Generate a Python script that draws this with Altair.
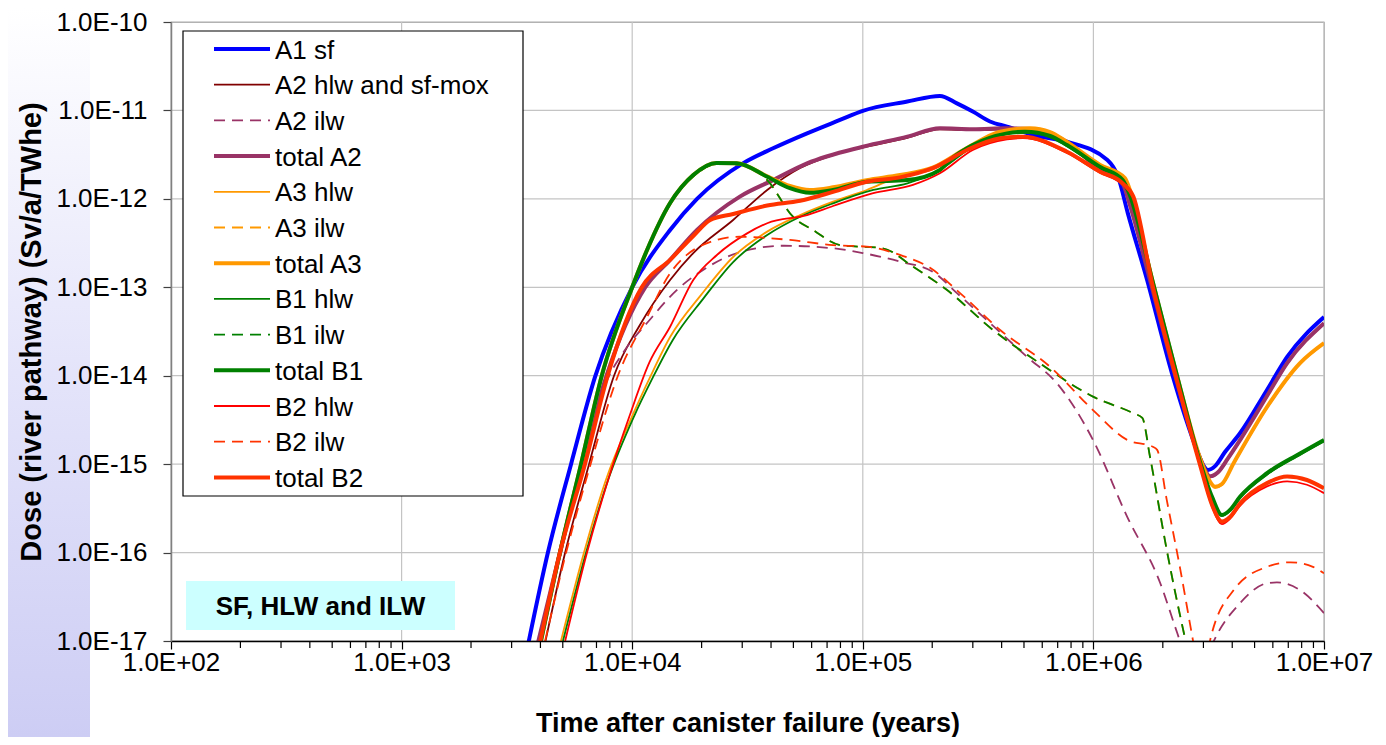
import altair as alt
import pandas as pd

FONT = "Liberation Sans"

# ---------------- axis ticks ----------------
x_ticks = [1e2, 1e3, 1e4, 1e5, 1e6, 1e7]
y_ticks = [1e-17, 1e-16, 1e-15, 1e-14, 1e-13, 1e-12, 1e-11, 1e-10]
x_minor = [k * 10 ** e for e in range(2, 7) for k in range(2, 10)]

# ---------------- series styling ----------------
series_names = ["A1 sf", "A2 hlw and sf-mox", "A2 ilw", "total A2", "A3 hlw", "A3 ilw",
                "total A3", "B1 hlw", "B1 ilw", "total B1", "B2 hlw", "B2 ilw", "total B2"]
series_colors = ["#0000ff", "#800000", "#993366", "#993366", "#ff9900", "#ff9900",
                 "#ff9900", "#008000", "#008000", "#008000", "#ff0000", "#ff3300", "#ff3300"]
series_widths = [4, 1.8, 1.8, 4, 1.8, 1.8, 4, 1.8, 1.8, 4, 1.8, 1.8, 4]
series_dashed = [False, False, True, False, False, True, False, False, True, False, False, True, False]

# ---------------- data (time in years, dose in Sv/a/TWhe) ----------------
t_a1 = [3.5e3, 4.31e3, 5.43e3, 6.9e3, 1.0e4, 1.46e4, 1.91e4, 3.02e4, 4.08e4, 5.73e4, 7.96e4, 1.0e5,
        1.56e5, 2.16e5, 2.56e5, 3.0e5, 3.56e5, 4.22e5, 5.47e5, 7.68e5, 1.15e6, 1.28e6, 1.41e6,
        1.71e6, 2.19e6, 2.81e6, 2.98e6, 3.14e6, 3.37e6, 3.72e6, 4.33e6, 5.66e6, 6.92e6, 1.0e7]
d_a1 = [8e-18, 1.0e-16, 1.0e-15, 9.7e-15, 1.0e-13, 4.45e-13, 1.0e-12, 2.52e-12, 3.73e-12, 5.51e-12,
        7.8e-12, 9.9e-12, 1.26e-11, 1.46e-11, 1.2e-11, 9.7e-12, 7.5e-12, 6.55e-12, 5.27e-12, 4.43e-12,
        2.75e-12, 1.77e-12, 6.9e-13, 1.21e-13, 1.07e-14, 1.45e-15, 1.0e-15, 8.6e-16, 9.5e-16,
        1.37e-15, 2.25e-15, 6.9e-15, 1.63e-14, 4.6e-14]

t_a2h = [4.19e3, 5.12e3, 6.5e3, 8.34e3, 1.08e4, 1.46e4, 1.84e4, 2.74e4, 3.85e4, 5.35e4, 7.43e4,
         1.04e5, 1.56e5, 2.16e5, 3.0e5, 4.22e5, 5.31e5, 7.68e5, 1.07e6, 1.34e6, 1.44e6, 1.76e6,
         2.26e6, 2.9e6, 3.21e6, 3.47e6, 3.84e6, 4.33e6, 5.66e6, 6.92e6, 1.0e7]
d_a2h = [9.5e-18, 1.0e-16, 1.0e-15, 1.0e-14, 3.75e-14, 1.21e-13, 2.44e-13, 5.77e-13, 1.26e-12,
         2.23e-12, 3.13e-12, 3.89e-12, 4.9e-12, 6.1e-12, 6.0e-12, 6.1e-12, 6.0e-12, 4.3e-12,
         2.07e-12, 1.44e-12, 8.3e-13, 1.18e-13, 1.0e-14, 1.14e-15, 7.1e-16, 7.9e-16, 1.14e-15,
         1.84e-15, 5.8e-15, 1.36e-14, 3.85e-14]

t_a2i = [3.9e3, 4.9e3, 6.05e3, 7.8e3, 9.12e3, 1.19e4, 1.56e4, 2.03e4, 2.85e4, 4.51e4, 7.43e4,
         1.0e5, 1.45e5, 2.01e5, 2.56e5, 3.32e5, 5.15e5, 6.95e5, 9.96e5, 1.4e6, 1.95e6, 2.31e6,
         2.8e6, 3.3e6, 4.33e6, 5.66e6, 6.25e6, 7.87e6, 1.0e7]
d_a2i = [9.0e-18, 9.5e-17, 9.5e-16, 9.0e-15, 1.81e-14, 4.27e-14, 9.3e-14, 1.57e-13, 2.44e-13,
         2.95e-13, 2.76e-13, 2.44e-13, 1.95e-13, 1.5e-13, 8.6e-14, 4.65e-14, 1.64e-14, 8.2e-15,
         1.88e-15, 2.55e-16, 4.5e-17, 1.23e-17, 3.0e-18, 9.5e-18, 2.69e-17, 4.5e-17, 4.6e-17,
         3.77e-17, 2.07e-17]

t_ta2 = [3.9e3, 4.86e3, 6.04e3, 7.74e3, 1.14e4, 1.46e4, 1.91e4, 2.93e4, 4.08e4, 5.73e4, 1.0e5,
         1.56e5, 2.16e5, 3.0e5, 4.22e5, 5.31e5, 7.68e5, 1.07e6, 1.34e6, 1.44e6, 1.76e6, 2.26e6,
         2.9e6, 3.21e6, 3.47e6, 3.84e6, 4.33e6, 5.66e6, 6.92e6, 1.0e7]
d_ta2 = [9.5e-18, 1.0e-16, 1.0e-15, 1.0e-14, 1.0e-13, 2.04e-13, 4.45e-13, 1.06e-12, 1.63e-12,
         2.52e-12, 3.89e-12, 5.05e-12, 6.28e-12, 6.12e-12, 6.28e-12, 6.17e-12, 4.4e-12, 2.12e-12,
         1.47e-12, 8.5e-13, 1.21e-13, 1.02e-14, 1.17e-15, 7.3e-16, 8.1e-16, 1.17e-15, 1.88e-15,
         5.9e-15, 1.39e-14, 3.92e-14]

t_a3h = [4.91e3, 6.18e3, 7.69e3, 1.0e4, 1.19e4, 1.46e4, 1.99e4, 2.74e4, 3.85e4, 5.35e4, 7.43e4,
         1.04e5, 1.45e5, 2.01e5, 2.83e5, 3.94e5, 5.31e5, 7.68e5, 1.07e6, 1.37e6, 1.44e6, 1.8e6,
         2.3e6, 2.9e6, 3.14e6, 3.37e6, 3.61e6, 4.06e6, 5.66e6, 7.87e6, 1.0e7]
d_a3h = [1.0e-17, 1.0e-16, 6.62e-16, 3.5e-15, 9.4e-15, 2.74e-14, 8.2e-14, 2.2e-13, 4.26e-13,
         6.56e-13, 9.3e-13, 1.26e-12, 1.8e-12, 2.15e-12, 3.6e-12, 5.55e-12, 6.1e-12, 4.3e-12,
         2.36e-12, 1.68e-12, 1.23e-12, 1.18e-13, 1.0e-14, 1.14e-15, 6.8e-16, 5.4e-16, 5.8e-16,
         1.0e-15, 4.3e-15, 1.36e-14, 2.29e-14]

t_a3i = [4.02e3, 4.86e3, 6.0e3, 7.38e3, 1.0e4, 1.16e4, 1.46e4, 1.84e4, 2.32e4, 3.02e4, 3.85e4,
         4.98e4, 6.08e4, 7.96e4, 1.22e5, 1.65e5, 2.32e5, 3.67e5, 5.86e5, 9.96e5, 1.49e6, 1.63e6,
         1.76e6, 2.08e6, 2.49e6, 2.8e6]
d_a3i = [9.7e-18, 9.7e-17, 9.7e-16, 9.7e-15, 9.7e-14, 2.56e-13, 8.7e-13, 1.8e-12, 2.48e-12,
         2.42e-12, 1.63e-12, 6.28e-13, 4.45e-13, 3.0e-13, 2.76e-13, 1.71e-13, 9.3e-14, 3.29e-14,
         1.38e-14, 5.8e-15, 3.76e-15, 3.33e-15, 1.21e-15, 1.07e-16, 1.11e-17, 3.0e-18]

t_ta3 = [4.02e3, 4.86e3, 6.0e3, 7.38e3, 1.0e4, 1.16e4, 1.46e4, 1.84e4, 2.32e4, 2.84e4, 3.85e4,
         4.83e4, 5.9e4, 7.43e4, 1.04e5, 1.45e5, 2.01e5, 2.83e5, 3.94e5, 5.31e5, 6.49e5, 7.68e5,
         1.07e6, 1.37e6, 1.44e6, 1.8e6, 2.3e6, 2.9e6, 3.14e6, 3.37e6, 3.61e6, 4.06e6, 5.66e6,
         7.87e6, 1.0e7]
d_ta3 = [1.0e-17, 1.0e-16, 1.0e-15, 1.0e-14, 1.0e-13, 2.64e-13, 8.97e-13, 1.86e-12, 2.55e-12,
         2.52e-12, 1.8e-12, 1.4e-12, 1.26e-12, 1.35e-12, 1.63e-12, 1.86e-12, 2.25e-12, 3.75e-12,
         5.75e-12, 6.28e-12, 5.7e-12, 4.4e-12, 2.42e-12, 1.72e-12, 1.26e-12, 1.21e-13, 1.02e-14,
         1.17e-15, 6.97e-16, 5.56e-16, 5.97e-16, 1.03e-15, 4.43e-15, 1.39e-14, 2.34e-14]

t_b1h = [5.01e3, 6.31e3, 7.86e3, 1.02e4, 1.22e4, 1.5e4, 2.03e4, 2.74e4, 3.85e4, 5.35e4, 7.43e4,
         1.11e5, 1.56e5, 2.16e5, 3.0e5, 4.22e5, 5.05e5, 6.49e5, 7.68e5, 1.07e6, 1.34e6, 1.44e6,
         1.8e6, 2.33e6, 2.9e6, 3.27e6, 3.61e6, 3.91e6, 4.33e6, 5.66e6, 7.87e6, 1.0e7]
d_b1h = [1.0e-17, 1.0e-16, 6.62e-16, 3.5e-15, 9.2e-15, 2.54e-14, 7.4e-14, 1.93e-13, 3.9e-13,
         6.28e-13, 8.9e-13, 1.26e-12, 1.5e-12, 2.12e-12, 3.89e-12, 5.5e-12, 5.6e-12, 5.0e-12,
         3.95e-12, 2.23e-12, 1.6e-12, 1.07e-12, 1.18e-13, 8.7e-15, 1.03e-15, 4.15e-16, 2.6e-16,
         2.95e-16, 4.15e-16, 7.6e-16, 1.27e-15, 1.8e-15]

t_b1i = [4.02e3, 4.86e3, 6.0e3, 7.38e3, 1.0e4, 1.16e4, 1.46e4, 1.84e4, 2.32e4, 3.02e4, 3.85e4,
         4.98e4, 6.08e4, 7.96e4, 1.22e5, 1.65e5, 2.32e5, 3.67e5, 5.86e5, 9.96e5, 1.49e6, 1.63e6,
         1.76e6, 2.08e6, 2.49e6, 2.8e6]
d_b1i = [9.7e-18, 9.7e-17, 9.7e-16, 9.7e-15, 9.7e-14, 2.56e-13, 8.7e-13, 1.8e-12, 2.48e-12,
         2.42e-12, 1.63e-12, 6.28e-13, 4.45e-13, 3.0e-13, 2.76e-13, 1.71e-13, 9.3e-14, 3.29e-14,
         1.38e-14, 5.8e-15, 3.76e-15, 3.33e-15, 1.21e-15, 1.07e-16, 1.11e-17, 3.0e-18]

t_tb1 = [4.02e3, 4.86e3, 6.0e3, 7.38e3, 1.0e4, 1.16e4, 1.46e4, 1.84e4, 2.32e4, 2.84e4, 3.85e4,
         4.83e4, 5.9e4, 7.43e4, 1.04e5, 1.56e5, 2.16e5, 2.39e5, 3.0e5, 4.22e5, 5.05e5, 6.49e5,
         7.68e5, 1.07e6, 1.34e6, 1.44e6, 1.8e6, 2.33e6, 2.9e6, 3.27e6, 3.61e6, 3.91e6, 4.33e6,
         5.66e6, 7.87e6, 1.0e7]
d_tb1 = [1.0e-17, 1.0e-16, 1.0e-15, 1.0e-14, 1.0e-13, 2.64e-13, 8.97e-13, 1.86e-12, 2.55e-12,
         2.52e-12, 1.78e-12, 1.32e-12, 1.17e-12, 1.26e-12, 1.56e-12, 1.63e-12, 2.12e-12, 2.75e-12,
         4.06e-12, 5.5e-12, 5.75e-12, 5.14e-12, 4.06e-12, 2.29e-12, 1.63e-12, 1.1e-12, 1.21e-13,
         8.95e-15, 1.06e-15, 4.26e-16, 2.66e-16, 3.03e-16, 4.3e-16, 7.9e-16, 1.32e-15, 1.88e-15]

t_b2h = [5.12e3, 6.37e3, 7.86e3, 9.77e3, 1.19e4, 1.46e4, 1.84e4, 2.33e4, 3.15e4, 3.85e4, 5.73e4,
         7.43e4, 1.11e5, 1.65e5, 2.16e5, 3.0e5, 4.22e5, 4.95e5, 7.68e5, 1.07e6, 1.34e6, 1.49e6,
         1.81e6, 2.3e6, 2.9e6, 3.27e6, 3.61e6, 3.91e6, 4.33e6, 5.66e6, 6.92e6, 8.43e6, 1.0e7]
d_b2h = [1.0e-17, 1.0e-16, 6.62e-16, 3.6e-15, 1.43e-14, 3.58e-14, 1.21e-13, 2.32e-13, 4.07e-13,
         5.3e-13, 6.56e-13, 8.3e-13, 1.16e-12, 1.44e-12, 1.95e-12, 3.57e-12, 4.7e-12, 4.85e-12,
         3.3e-12, 1.96e-12, 1.45e-12, 1.02e-12, 9.8e-14, 8.7e-15, 9.5e-16, 3.3e-16, 2.1e-16,
         2.4e-16, 3.4e-16, 5.6e-16, 6.4e-16, 5.85e-16, 4.7e-16]

t_b2i = [4.19e3, 5.17e3, 6.6e3, 8.67e3, 1.16e4, 1.46e4, 2.33e4, 2.92e4, 4.83e4, 7.43e4, 1.04e5,
         1.45e5, 1.95e5, 2.64e5, 3.94e5, 6.49e5, 9.96e5, 1.4e6, 1.81e6, 1.89e6, 2.08e6, 2.37e6,
         2.7e6, 2.95e6, 3.21e6, 4.06e6, 5.66e6, 7.16e6, 8.95e6, 1.0e7]
d_b2i = [1.0e-17, 1.0e-16, 1.0e-15, 1.0e-14, 4.61e-14, 1.44e-13, 3.43e-13, 3.73e-13, 3.43e-13,
         3.0e-13, 2.88e-13, 2.32e-13, 1.67e-13, 8.6e-14, 3.29e-14, 1.26e-14, 4.09e-15, 1.88e-15,
         1.57e-15, 1.45e-15, 3.94e-16, 6.9e-17, 1.03e-17, 3.0e-18, 1.03e-17, 3.77e-17, 6.9e-17,
         7.76e-17, 6.9e-17, 5.83e-17]

t_tb2 = [3.98e3, 4.86e3, 6.24e3, 7.83e3, 1.1e4, 1.46e4, 1.84e4, 2.18e4, 2.74e4, 3.85e4, 5.35e4,
         7.43e4, 1.04e5, 1.45e5, 2.01e5, 2.83e5, 3.94e5, 4.95e5, 7.68e5, 1.07e6, 1.34e6, 1.49e6,
         1.81e6, 2.3e6, 2.9e6, 3.27e6, 3.61e6, 3.91e6, 4.33e6, 5.66e6, 6.92e6, 8.43e6, 1.0e7]
d_tb2 = [9.5e-18, 1.0e-16, 1.0e-15, 1.0e-14, 1.0e-13, 2.04e-13, 3.8e-13, 5.77e-13, 6.74e-13,
         8.4e-13, 9.5e-13, 1.2e-12, 1.56e-12, 1.75e-12, 2.22e-12, 3.57e-12, 4.84e-12, 5.05e-12,
         3.41e-12, 2.03e-12, 1.5e-12, 1.06e-12, 1.02e-13, 8.95e-15, 9.8e-16, 3.45e-16, 2.24e-16,
         2.52e-16, 3.6e-16, 6.1e-16, 7.25e-16, 6.62e-16, 5.33e-16]

series_data = [(t_a1, d_a1), (t_a2h, d_a2h), (t_a2i, d_a2i), (t_ta2, d_ta2),
               (t_a3h, d_a3h), (t_a3i, d_a3i), (t_ta3, d_ta3),
               (t_b1h, d_b1h), (t_b1i, d_b1i), (t_tb1, d_tb1),
               (t_b2h, d_b2h), (t_b2i, d_b2i), (t_tb2, d_tb2)]

# ---------------- layout ----------------
W, H = 1153, 619
DASH = [11, 7]
GRID = "#c4c4c4"

xscale = alt.Scale(type="log", domain=[1e2, 1e7], nice=False)
yscale = alt.Scale(type="log", domain=[1e-17, 1e-10], nice=False)

xaxis = alt.Axis(
    values=x_ticks, labelExpr="'1.0E+0' + round(log(datum.value) / LN10)",
    title="Time after canister failure (years)", grid=False, zindex=1,
    labelFlush=False, labelOverlap=False,
    domainColor="#000000", domainWidth=1.5, tickColor="#000000", tickSize=8, tickWidth=1.2,
    labelFont=FONT, labelFontSize=26, labelColor="#000000", labelPadding=0,
    titleFont=FONT, titleFontSize=27, titleFontWeight="bold", titleColor="#000000",
    titleY=90, titleBaseline="alphabetic")
yaxis = alt.Axis(
    values=y_ticks, labelExpr="'1.0E' + round(log(datum.value) / LN10)",
    title="Dose (river pathway) (Sv/a/TWhe)", grid=False, zindex=1,
    labelFlush=False, labelOverlap=False,
    domainColor="#808080", domainWidth=1.5, tickColor="#404040", tickSize=8, tickWidth=1.2,
    labelFont=FONT, labelFontSize=26, labelColor="#000000", labelPadding=16,
    titleFont=FONT, titleFontSize=29, titleFontWeight="bold", titleColor="#000000",
    titleAngle=270, titleX=-131, titleY=H / 2, titleBaseline="alphabetic", titleAlign="center")

one = alt.Data(values=[{}])
layers = []

# left decorative gradient strip
layers.append(
    alt.Chart(one).mark_rect(
        clip=False,
        fill=alt.LinearGradient(gradient="linear", x1=0, x2=0, y1=0, y2=1,
                                stops=[alt.GradientStop(offset=0, color="#ffffff"),
                                       alt.GradientStop(offset=0.5, color="#e4e4fa"),
                                       alt.GradientStop(offset=1, color="#cdcdf4")])
    ).encode(x=alt.value(-163), x2=alt.value(-81), y=alt.value(-14), y2=alt.value(715))
)

# gridlines (under the data)
layers.append(
    alt.Chart(pd.DataFrame({"t": x_ticks})).mark_rule(color=GRID, strokeWidth=1.2)
    .encode(x=alt.X("t:Q", scale=xscale, axis=xaxis), y=alt.value(0), y2=alt.value(H))
)
layers.append(
    alt.Chart(pd.DataFrame({"dose": y_ticks})).mark_rule(color=GRID, strokeWidth=1.2)
    .encode(y=alt.Y("dose:Q", scale=yscale, axis=yaxis), x=alt.value(0), x2=alt.value(W))
)

for i, (name, (tt, dd)) in enumerate(zip(series_names, series_data)):
    df = pd.DataFrame([{"t": a, "dose": b} for a, b in zip(tt, dd, strict=True)])
    mk = dict(color=series_colors[i], strokeWidth=series_widths[i], clip=True,
              interpolate="monotone")
    if series_dashed[i]:
        mk["strokeDash"] = DASH
    layers.append(
        alt.Chart(df).mark_line(**mk).encode(
            x=alt.X("t:Q", scale=xscale, axis=xaxis),
            y=alt.Y("dose:Q", scale=yscale, axis=yaxis),
        )
    )

# minor x ticks
layers.append(
    alt.Chart(pd.DataFrame({"t": x_minor})).mark_rule(color="#000000", strokeWidth=1.2, clip=False)
    .encode(x=alt.X("t:Q", scale=xscale, axis=xaxis), y=alt.value(H), y2=alt.value(H + 7))
)

# legend box
layers.append(
    alt.Chart(one).mark_rect(fill="white", stroke="black", strokeWidth=1.2)
    .encode(x=alt.value(12), x2=alt.value(352), y=alt.value(9), y2=alt.value(474))
)
for i, name in enumerate(series_names):
    yy = 27 + 35.7 * i
    mk = dict(color=series_colors[i], strokeWidth=series_widths[i])
    if series_dashed[i]:
        mk["strokeDash"] = DASH
    layers.append(
        alt.Chart(one).mark_rule(**mk).encode(x=alt.value(43), x2=alt.value(99), y=alt.value(yy))
    )
    layers.append(
        alt.Chart(one).mark_text(align="left", baseline="middle", font=FONT, fontSize=26,
                                 color="#000000")
        .encode(x=alt.value(104), y=alt.value(yy + 1.5), text=alt.value(name))
    )

# annotation box
layers.append(
    alt.Chart(one).mark_rect(fill="#ccffff")
    .encode(x=alt.value(15), x2=alt.value(284), y=alt.value(559), y2=alt.value(608))
)
layers.append(
    alt.Chart(one).mark_text(align="center", baseline="middle", font=FONT, fontSize=26,
                             fontWeight="bold", color="#000000")
    .encode(x=alt.value(149.5), y=alt.value(584.5), text=alt.value("SF, HLW and ILW"))
)

chart = alt.layer(*layers).properties(
    width=W, height=H,
    padding={"left": 163, "top": 14, "right": 54, "bottom": 96},
    autosize=alt.AutoSizeParams(type="none"),
    background="white",
).configure_view(stroke="#a0a0a0", strokeWidth=1.2)

chart.save("out.html", embed_options={"renderer": "svg", "actions": False})
